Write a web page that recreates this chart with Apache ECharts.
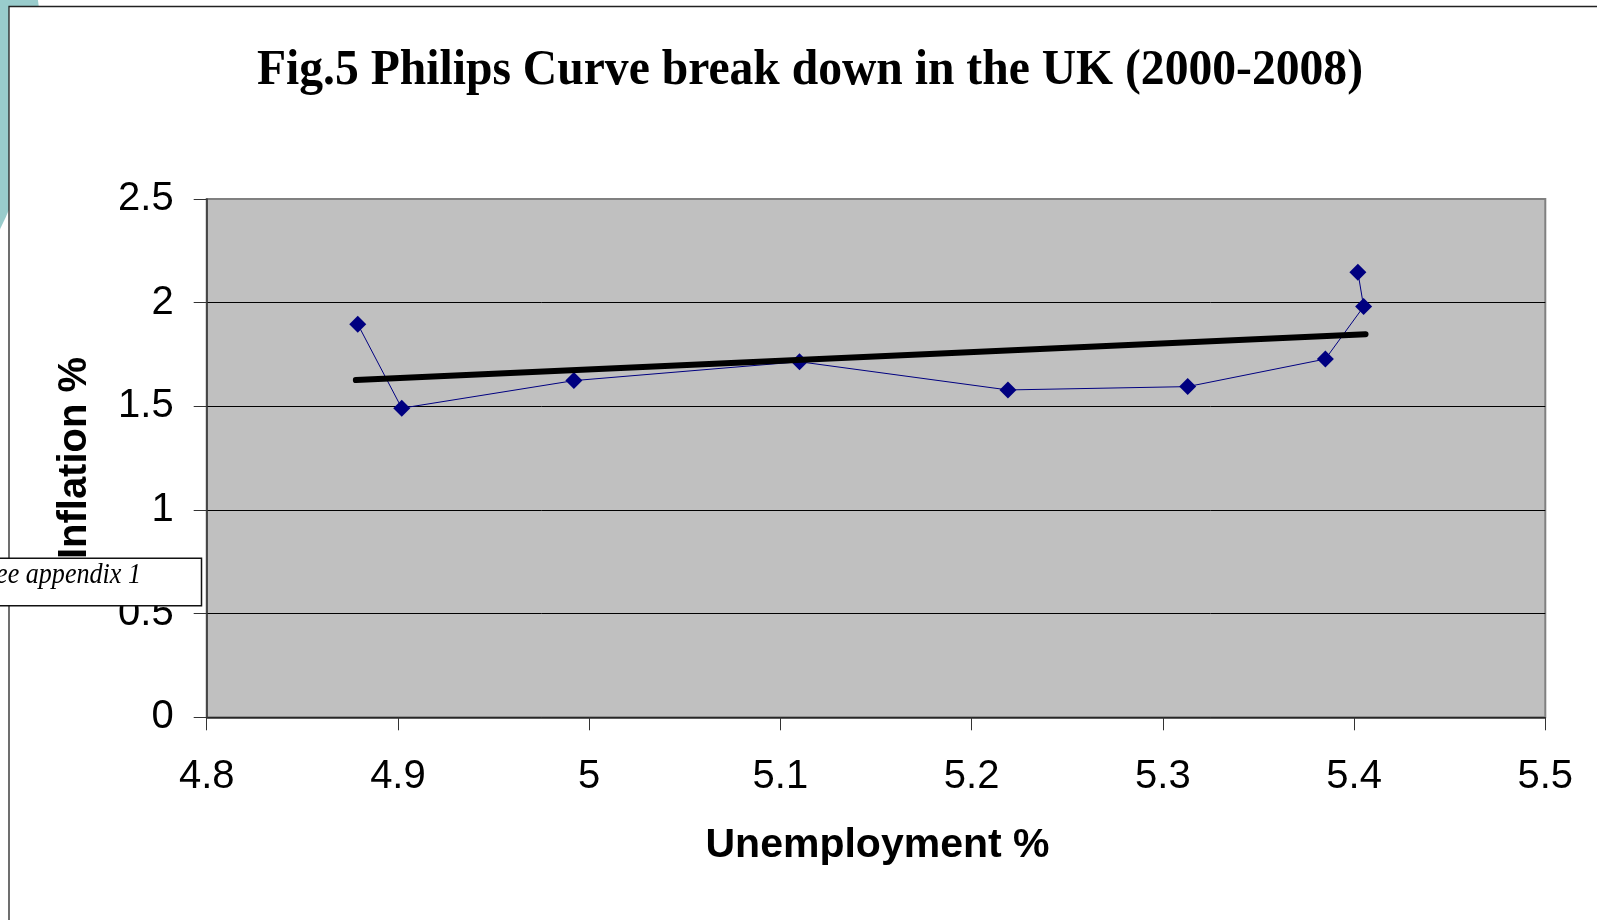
<!DOCTYPE html>
<html>
<head>
<meta charset="utf-8">
<title>Philips Curve UK 2000-2008</title>
<script src="https://cdn.jsdelivr.net/npm/echarts@6/dist/echarts.min.js"></script>
<style>
  html, body { margin: 0; padding: 0; background: #ffffff; }
  #chart { width: 1597px; height: 920px; }
</style>
</head>
<body>
<div id="chart"></div>
<script>
// Unemployment (%) and inflation (%) observations, in year order 2000-2008
const unemployment = [4.879, 4.902, 4.992, 5.110, 5.219, 5.313, 5.385, 5.405, 5.402];
const inflation    = [1.896, 1.491, 1.624, 1.715, 1.579, 1.595, 1.728, 1.981, 2.147];

// Linear trend line end points
const trendX = [4.878, 5.406];
const trendY = [1.627, 1.848];

// Axis tick labels
const xTicks = ['4.8', '4.9', '5', '5.1', '5.2', '5.3', '5.4', '5.5'];
const yTicks = ['0', '0.5', '1', '1.5', '2', '2.5'];

const titleText = 'Fig.5 Philips Curve break down in the UK (2000-2008)';
const xName = 'Unemployment %';
const yName = 'Inflation %';
const noteText = 'See appendix 1';

const observed = unemployment.map((u, i) => [u, inflation[i]]);
const trend = trendX.map((x, i) => [x, trendY[i]]);

// Measure text so the title spans its intended width
function textWidth(font, text) {
  const c = document.createElement('canvas').getContext('2d');
  c.font = font;
  return c.measureText(text).width;
}
const titleFont = 'bold 50px "Liberation Serif"';
const titleScale = 1106 / textWidth(titleFont, titleText);

const chart = echarts.init(document.getElementById('chart'), null, { renderer: 'canvas' });

const labelFont = { fontFamily: 'Liberation Sans', fontSize: 40, color: '#000' };

chart.setOption({
  animation: false,
  backgroundColor: 'transparent',
  grid: {
    left: 206.7, right: 51.7, top: 199, bottom: 202.7,
    show: true,
    backgroundColor: '#C0C0C0',
    borderColor: '#808080',
    borderWidth: 2,
    containLabel: false
  },
  xAxis: {
    type: 'value',
    min: 4.8, max: 5.5, interval: 0.1,
    axisLine: { show: true, onZero: false, lineStyle: { color: '#333', width: 1.5 } },
    axisTick: { show: true, inside: false, length: 13, lineStyle: { color: '#333', width: 1 } },
    axisLabel: {
      ...labelFont, margin: 40,
      formatter: v => xTicks[Math.round((v - 4.8) * 10)]
    },
    splitLine: { show: false }
  },
  yAxis: {
    type: 'value',
    min: 0, max: 2.5, interval: 0.5,
    axisLine: { show: true, onZero: false, lineStyle: { color: '#333', width: 1.5 } },
    axisTick: { show: true, inside: false, length: 13, lineStyle: { color: '#333', width: 1 } },
    axisLabel: {
      ...labelFont, margin: 33,
      formatter: v => yTicks[Math.round(v * 2)]
    },
    splitLine: { show: true, showMaxLine: false, lineStyle: { color: '#000', width: 1 } }
  },
  series: [
    {
      name: 'Inflation vs unemployment',
      type: 'line',
      data: observed,
      symbol: 'diamond',
      symbolSize: 17,
      lineStyle: { color: '#000080', width: 1 },
      itemStyle: { color: '#000080' },
      z: 2
    },
    {
      name: 'Trend',
      type: 'line',
      data: trend,
      symbol: 'none',
      lineStyle: { color: '#000', width: 6, cap: 'round' },
      z: 3
    }
  ],
  graphic: {
    elements: [
      {
        type: 'circle', z: -20,
        shape: { cx: -354, cy: 53, r: 395.5 },
        style: { fill: '#99CCCC' }
      },
      {
        type: 'rect', z: -10,
        shape: { x: 9, y: 6.5, width: 1700, height: 1000 },
        style: { fill: '#ffffff', stroke: '#222', lineWidth: 1.3 }
      },
      {
        type: 'text', z: 10,
        x: 810, y: 71.5, scaleX: titleScale, originX: 0, originY: 0,
        style: {
          text: titleText, font: titleFont, fill: '#000',
          align: 'center', verticalAlign: 'middle'
        }
      },
      {
        type: 'text', z: 10,
        x: 877.5, y: 846,
        style: {
          text: xName, font: 'bold 41px "Liberation Sans"', fill: '#000',
          align: 'center', verticalAlign: 'middle'
        }
      },
      {
        type: 'text', z: 10,
        x: 75, y: 458, rotation: Math.PI / 2,
        style: {
          text: yName, font: 'bold 40px "Liberation Sans"', fill: '#000',
          align: 'center', verticalAlign: 'middle'
        }
      },
      {
        type: 'rect', z: 50,
        shape: { x: -2, y: 558.3, width: 203.5, height: 47.4 },
        style: { fill: '#ffffff', stroke: '#111', lineWidth: 1.5 }
      },
      {
        type: 'text', z: 51,
        x: 141, y: 575, scaleX: 0.87, originX: 0, originY: 0,
        style: {
          text: noteText, font: 'italic 30px "Liberation Serif"', fill: '#000',
          align: 'right', verticalAlign: 'middle'
        }
      }
    ]
  }
});
</script>
</body>
</html>
